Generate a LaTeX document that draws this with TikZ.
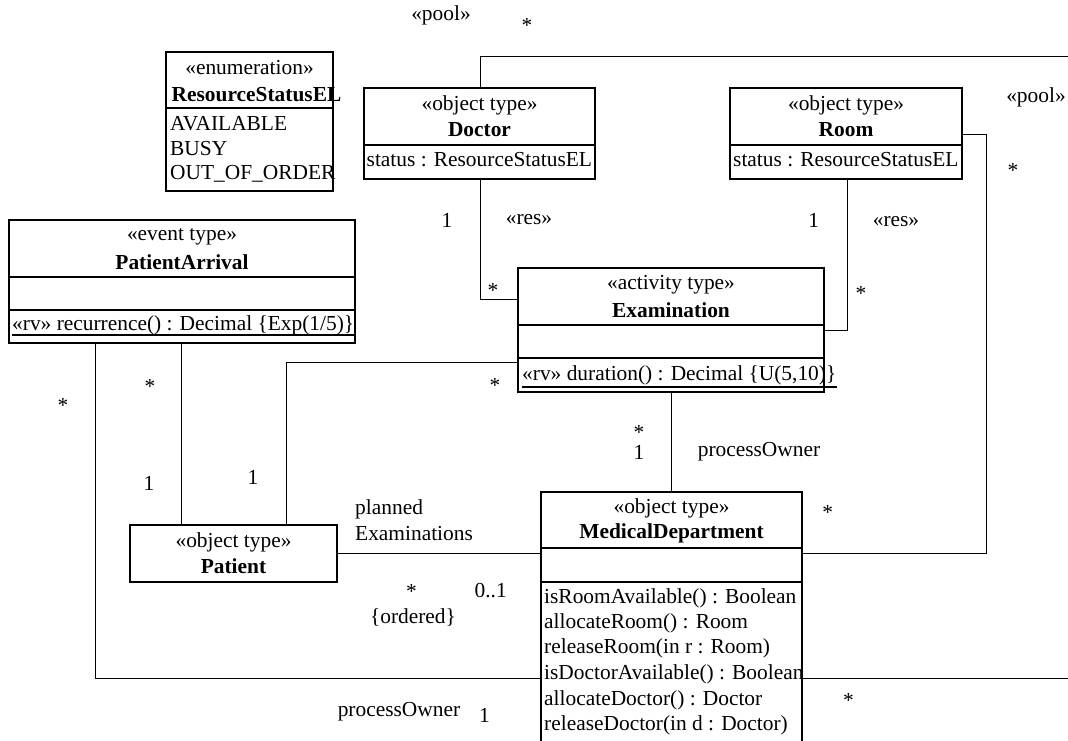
\documentclass[tikz,border=0pt]{standalone}
\usepackage{fontspec}
\setmainfont{Liberation Serif}
\usetikzlibrary{calc}
\newcommand\umlfs{\fontsize{21.4}{25}\selectfont}
\begin{document}
\begin{tikzpicture}[x=1pt,y=-1pt,
  umlbox/.style={draw, line width=1.5pt, inner sep=0pt, outer sep=0pt, anchor=north west},
  sepline/.style={line width=1.5pt},
  conn/.style={line width=0.9pt},
  txt/.style={inner sep=0pt, font=\umlfs},
  ttl/.style={inner sep=0pt, font=\umlfs\bfseries},
  lt/.style={txt, anchor=west},
  uline/.style={line width=1.4pt}]
\useasboundingbox (0,0) rectangle (1068,740);
\clip (0,0) rectangle (1068,740);
\fill[white] (0,0) rectangle (1068,740);

% ---------- boxes ----------
\node[umlbox, minimum width=167pt, minimum height=139pt] (enum) at (166,52) {};
\draw[sepline] (166,108) -- (333,108);

\node[umlbox, minimum width=231pt, minimum height=91pt] (doctor) at (364,88) {};
\draw[sepline] (364,145) -- (595,145);

\node[umlbox, minimum width=232pt, minimum height=91pt] (room) at (730,88) {};
\draw[sepline] (730,145) -- (962,145);

\node[umlbox, minimum width=346pt, minimum height=123pt] (arrival) at (9,220) {};
\draw[sepline] (9,277) -- (355,277);
\draw[sepline] (9,310) -- (355,310);

\node[umlbox, minimum width=306pt, minimum height=124pt] (exam) at (518,268) {};
\draw[sepline] (518,325) -- (824,325);
\draw[sepline] (518,358) -- (824,358);

\node[umlbox, minimum width=207pt, minimum height=57pt] (patient) at (130,525) {};

\node[umlbox, minimum width=261pt, minimum height=270pt] (md) at (541,492) {};
\draw[sepline] (541,548) -- (802,548);
\draw[sepline] (541,582) -- (802,582);

% ---------- connectors ----------
\draw[conn] (doctor.north -| 480,0) -- (480,56) -- (1100,56) -- (1100,678) -- (md.east |- 0,678);
\draw[conn] (room.east |- 0,134) -- (986,134) -- (986,553) -- (md.east |- 0,553);
\draw[conn] (doctor.south -| 480,0) -- (480,299) -- (exam.west |- 0,299);
\draw[conn] (room.south -| 847,0) -- (847,330) -- (exam.east |- 0,330);
\draw[conn] (exam.south -| 671,0) -- (md.north -| 671,0);
\draw[conn] (arrival.south -| 95,0) -- (95,678) -- (md.west |- 0,678);
\draw[conn] (arrival.south -| 181.5,0) -- (patient.north -| 181.5,0);
\draw[conn] (patient.north -| 286,0) -- (286,362) -- (exam.west |- 0,362);
\draw[conn] (patient.east |- 0,553) -- (md.west |- 0,553);

% ---------- box texts ----------
\node[txt] (enumst) at (249.5,68) {«enumeration»};
\node[ttl, anchor=west] (enumname) at (171.5,95) {ResourceStatusEL};
\node[lt] (lit1) at (170,124) {AVAILABLE};
\node[lt] (lit2) at (170,149) {BUSY};
\node[lt] (lit3) at (170,174) {OUT\_OF\_ORDER};

\node[txt] (docst) at (479.5,105) {«object type»};
\node[ttl] (docname) at (479.5,130) {Doctor};
\node[lt] (docattr) at (366.5,160) {status : ResourceStatusEL};

\node[txt] (roomst) at (846,105) {«object type»};
\node[ttl] (roomname) at (846,130) {Room};
\node[lt] (roomattr) at (733,160) {status : ResourceStatusEL};

\node[txt] (arrst) at (182,237) {«event type»};
\node[ttl] (arrname) at (182,262) {PatientArrival};
\node[lt] (arrop) at (12,325) {«rv» recurrence() : Decimal \{Exp(1/5)\}};
\draw[uline] (arrop.south west) -- (arrop.south east);

\node[txt] (examst) at (671,285) {«activity type»};
\node[ttl] (examname) at (671,310) {Examination};
\node[lt] (examop) at (522,375) {«rv» duration() : Decimal \{U(5,10)\}};
\draw[uline] ($(examop.south west)+(0,2)$) -- ($(examop.south east)+(0,2)$);

\node[txt] (patst) at (233.5,542) {«object type»};
\node[ttl] (patname) at (233.5,566) {Patient};

\node[txt] (mdst) at (671.5,508) {«object type»};
\node[ttl] (mdname) at (671.5,533) {MedicalDepartment};
\node[lt] (op1) at (544,598) {isRoomAvailable() : Boolean};
\node[lt] (op2) at (544,623) {allocateRoom() : Room};
\node[lt] (op3) at (544,648) {releaseRoom(in r : Room)};
\node[lt] (op4) at (544,674) {isDoctorAvailable() : Boolean};
\node[lt] (op5) at (544,700) {allocateDoctor() : Doctor};
\node[lt] (op6) at (544,725) {releaseDoctor(in d : Doctor)};

% ---------- connector labels ----------
\node[txt] (pool1) at (441,15) {«pool»};
\node[txt] (m1) at (527,25.5) {*};
\node[txt] (m2) at (447,220) {1};
\node[txt] (res1) at (529,220) {«res»};
\node[txt] (m3) at (493,290.5) {*};
\node[txt] (m4) at (813.6,220) {1};
\node[txt] (res2) at (896,222) {«res»};
\node[txt] (m5) at (861,293.5) {*};
\node[txt] (pool2) at (1036,97) {«pool»};
\node[txt] (m6) at (1013,170.5) {*};
\node[txt] (m7) at (63,405.5) {*};
\node[txt] (m8) at (150,386.5) {*};
\node[txt] (m9) at (149,483) {1};
\node[txt] (m10) at (253,477) {1};
\node[txt] (m11) at (495,385.5) {*};
\node[lt] (pe1) at (355,509) {planned};
\node[lt] (pe2) at (355,534) {Examinations};
\node[txt] (m12) at (411.5,591.5) {*};
\node[txt] (ord) at (413,617) {\{ordered\}};
\node[txt] (m13) at (490.7,591) {0..1};
\node[txt] (m14) at (639,432.5) {*};
\node[txt] (m15) at (639,452) {1};
\node[txt] (po1) at (759,452) {processOwner};
\node[txt] (m16) at (827.6,512.5) {*};
\node[txt] (m17) at (848.5,700.5) {*};
\node[txt] (po2) at (399,712) {processOwner};
\node[txt] (m18) at (484.5,715) {1};
\end{tikzpicture}
\end{document}
